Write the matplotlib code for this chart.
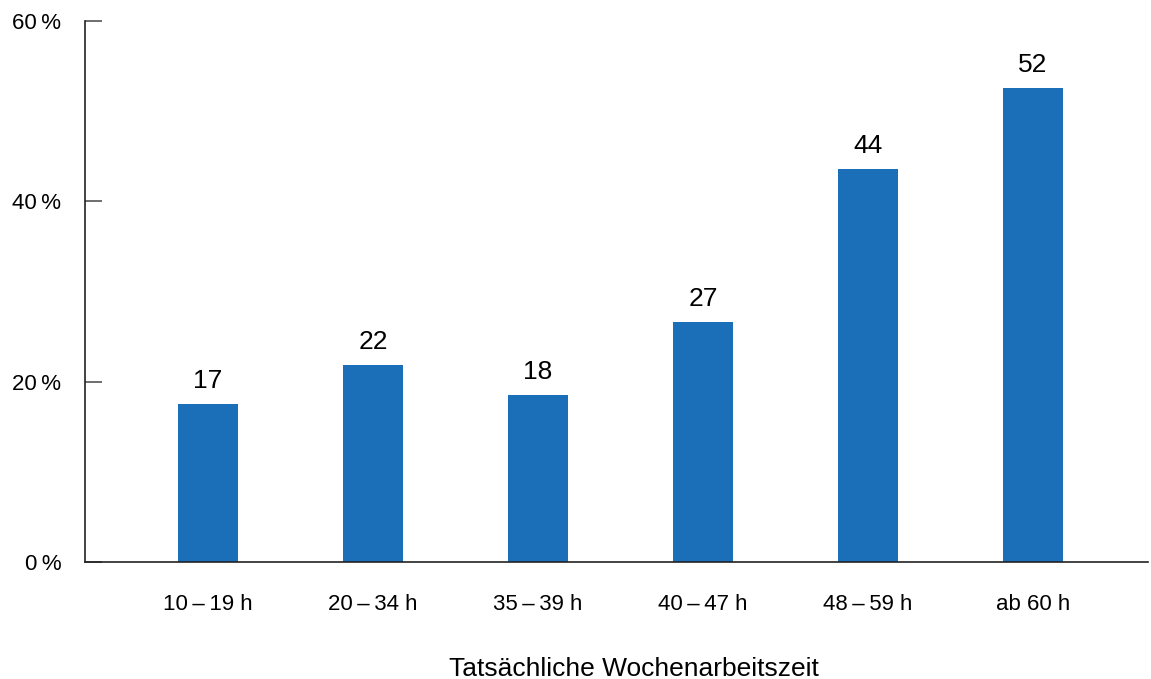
import matplotlib.pyplot as plt

categories = [
    "10\u2009\u2013\u200919 h",
    "20\u2009\u2013\u200934 h",
    "35\u2009\u2013\u200939 h",
    "40\u2009\u2013\u200947 h",
    "48\u2009\u2013\u200959 h",
    "ab 60 h",
]
values = [17.5, 21.8, 18.5, 26.6, 43.6, 52.6]
value_labels = ["17", "22", "18", "27", "44", "52"]
y_ticks = [0, 20, 40, 60]

plt.rcParams["font.family"] = ["Liberation Sans", "DejaVu Sans"]

fig = plt.figure(figsize=(11.51, 6.79), dpi=100)
ax = fig.add_axes([0.0738, 0.1723, 0.9236, 0.7967])

x = list(range(len(categories)))
bars = ax.bar(x, values, width=0.364, color="#1b6fb8")

for bar, label in zip(bars, value_labels):
    ax.annotate(
        label,
        (bar.get_x() + bar.get_width() / 2, bar.get_height()),
        xytext=(0, 8),
        textcoords="offset points",
        ha="center",
        va="bottom",
        fontsize=19,
    )

ax.set_xlim(-0.745, 5.697)
ax.set_ylim(0, 60)
ax.set_yticks(y_ticks)
ax.set_yticklabels([f"{t}\u2009%" for t in y_ticks], fontsize=16)
ax.set_xticks(x)
ax.set_xticklabels(categories, fontsize=16)

ax.tick_params(axis="y", direction="in", length=12, width=1.2, color="#555555", pad=17)
ax.tick_params(axis="x", length=0, pad=23)

for side in ("top", "right"):
    ax.spines[side].set_visible(False)
for side in ("left", "bottom"):
    ax.spines[side].set_color("#222222")
    ax.spines[side].set_linewidth(1.2)

ax.set_xlabel("Tatsächliche Wochenarbeitszeit", fontsize=19)
# label sits a bit right of the axes centre in the original
ax.xaxis.set_label_coords(0.5165, -0.176)

fig.savefig("out.png", dpi=100)
